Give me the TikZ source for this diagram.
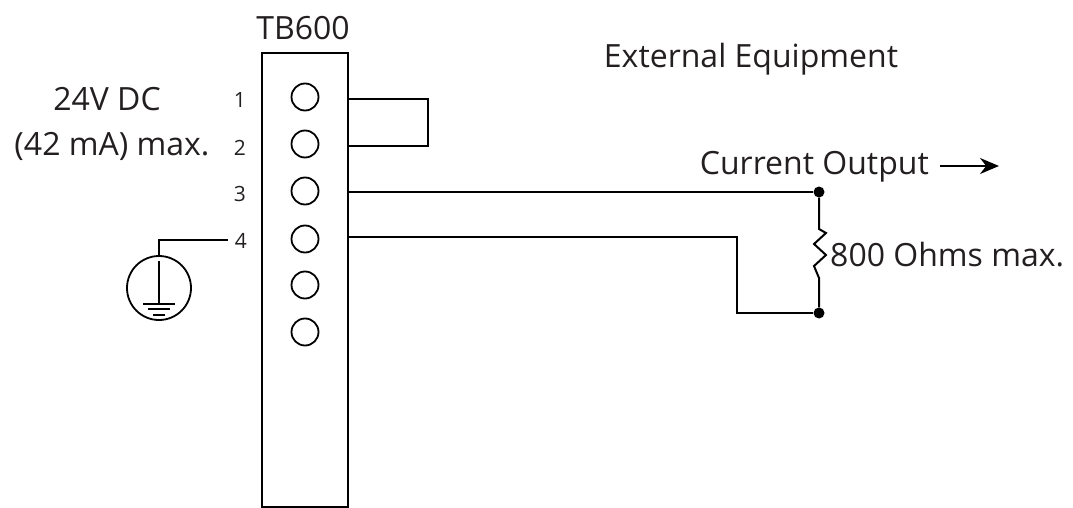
\documentclass[tikz,border=0pt]{standalone}
\usepackage{fontspec}
\setmainfont{Open Sans}
\usetikzlibrary{positioning,arrows.meta}
\definecolor{inkdark}{HTML}{231F20}
\begin{document}
\begin{tikzpicture}[x=1pt,y=-1pt,
    wire/.style={line width=2pt,black},
    term/.style={circle,draw,line width=1.8pt,minimum size=27pt,inner sep=0pt},
    lab/.style={font=\fontsize{32}{38}\selectfont,text=inkdark,inner sep=0pt},
    num/.style={font=\fontsize{21}{25}\selectfont,text=inkdark,inner sep=0pt},
    dot/.style={circle,fill,minimum size=11pt,inner sep=0pt}]
    \useasboundingbox (0,0) rectangle (1073,508);
    \draw[wire] (262,507) rectangle (348,53);
    \node [term] (t1) at (305,97) {};
    \node [term] (t2) at (305,144) {};
    \node [term] (t3) at (305,191) {};
    \node [term] (t4) at (305,239) {};
    \node [term] (t5) at (305,285) {};
    \node [term] (t6) at (305,332) {};
    \node [num,anchor=base] (n1) at (240,108) {1};
    \node [num,anchor=base] (n2) at (240,155) {2};
    \node [num,anchor=base] (n3) at (240,201) {3};
    \node [num,anchor=base] (n4) at (241,248) {4};
    \node [lab,anchor=base] (tb) at (303,40) {TB600};
    \node [lab,anchor=base] (ext) at (751,68) {External Equipment};
    \node [lab,anchor=base] (volt) at (107,111) {24V DC};
    \node [lab,anchor=base] (amp) at (112,155) {(42 mA) max.};
    \node [lab,anchor=base east] (cur) at (929,174) {Current Output};
    \node [lab,anchor=base west] (ohm) at (830,266) {800 Ohms max.};
    \node [dot] (d1) at (819,192) {};
    \node [dot] (d2) at (819,313) {};
    \coordinate (a1) at (348,99);
    \coordinate (a2) at (348,146);
    \coordinate (a3) at (348,192);
    \coordinate (a4) at (348,237);
    \draw[wire] (a1) -- (428,99) -- (428,146) -- (a2);
    \draw[wire] (a3) -- (d1);
    \draw[wire] (a4) -- (737,237) -- (737,313) -- (d2);
    % resistor
    \draw[wire] (d1) -- (819,229) -- (826,233) -- (814,244) -- (826,255) -- (814,266) -- (819,278) -- (d2);
    % ground
    \node [circle,draw,line width=1.8pt,minimum size=64pt,inner sep=0pt] (gnd) at (159,288) {};
    \coordinate (g0) at (159,240);
    \coordinate (g1) at (228,240);
    \draw[wire] (g1) -- (g0) -- (gnd.north);
    \draw[wire] (159,261) -- (159,304);
    \draw[wire] (143,304) -- (175,304);
    \draw[wire] (148,309) -- (170,309);
    \draw[wire] (153,315) -- (165,315);
    \coordinate (ar0) at (940,166);
    \coordinate (ar1) at (999,166);
    \draw[wire,-{Stealth[length=19pt,width=16pt]}] (ar0) -- (ar1);
\end{tikzpicture}
\end{document}
